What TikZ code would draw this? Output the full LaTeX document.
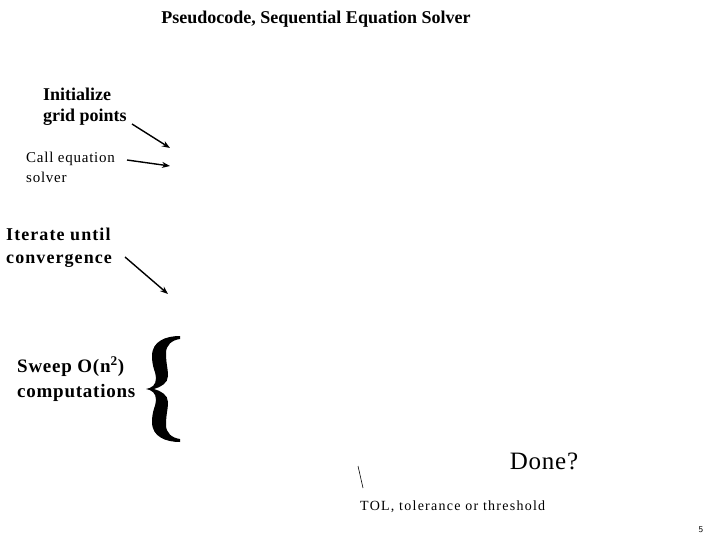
\documentclass[tikz,border=0pt]{standalone}
\usepackage{fontspec}
\setmainfont{Liberation Serif}
\usetikzlibrary{arrows.meta}
\begin{document}
\begin{tikzpicture}[x=1pt,y=-1pt,
  lbl/.style={inner sep=0pt,anchor=base west,align=left},
  arr/.style={line width=1.4pt,-{Stealth[length=8pt,width=6pt]}}]
\useasboundingbox (0,0) rectangle (720,540);
\node[inner sep=0pt,anchor=base,font=\bfseries\fontsize{18}{21}\selectfont] (title) at (316,24) {Pseudocode, Sequential Equation Solver};
\node[lbl,font=\bfseries\fontsize{18}{21}\selectfont] (init) at (43,122) {Initialize\\grid points};
\node[lbl,font=\fontsize{15}{20}\selectfont\addfontfeature{LetterSpace=5}] (call) at (26,183) {Call equation\\solver};
\node[lbl,font=\bfseries\fontsize{18}{23}\selectfont\addfontfeature{LetterSpace=6}] (iter) at (6,263) {Iterate until\\convergence};
\node[lbl,font=\bfseries\fontsize{19}{25}\selectfont\addfontfeature{LetterSpace=4}] (sweep) at (17,397) {Sweep O(n\textsuperscript{2})\\computations};
\node[lbl,anchor=base,font=\fontsize{25}{28}\selectfont\addfontfeature{LetterSpace=3}] (done) at (544,469) {Done?};
\node[lbl,font=\fontsize{14}{20}\selectfont\addfontfeature{LetterSpace=9}] (tol) at (360,510) {TOL, tolerance or threshold};
\node[inner sep=0pt,font=\sffamily\fontsize{9}{10}\selectfont] (page) at (701,530) {5};
% brace
\fill (180,336) .. controls (166,336) and (152,341) .. (152,356)
  .. controls (152,368) and (156,372) .. (156,378)
  .. controls (156,385) and (152,388) .. (146,389)
  .. controls (152,390) and (156,393) .. (156,400)
  .. controls (156,406) and (152,410) .. (152,422)
  .. controls (152,437) and (166,442) .. (180,442)
  -- (180,439) .. controls (172,438) and (166,433) .. (166,425)
  .. controls (166,414) and (168,410) .. (168,402)
  .. controls (168,395) and (161,391) .. (154,389)
  .. controls (161,387) and (168,383) .. (168,376)
  .. controls (168,368) and (166,364) .. (166,353)
  .. controls (166,345) and (172,340) .. (180,339) -- cycle;
\coordinate (s1) at (132,124);
\coordinate (a1) at (170,148);
\coordinate (s2) at (127,160);
\coordinate (a2) at (170,166);
\coordinate (s3) at (125,257);
\coordinate (a3) at (168,294);
\coordinate (t1) at (358,466);
\coordinate (t2) at (363,488);
\draw[arr] (s1) -- (a1);
\draw[arr] (s2) -- (a2);
\draw[arr] (s3) -- (a3);
\draw[line width=0.6pt] (t1) -- (t2);
\end{tikzpicture}
\end{document}
